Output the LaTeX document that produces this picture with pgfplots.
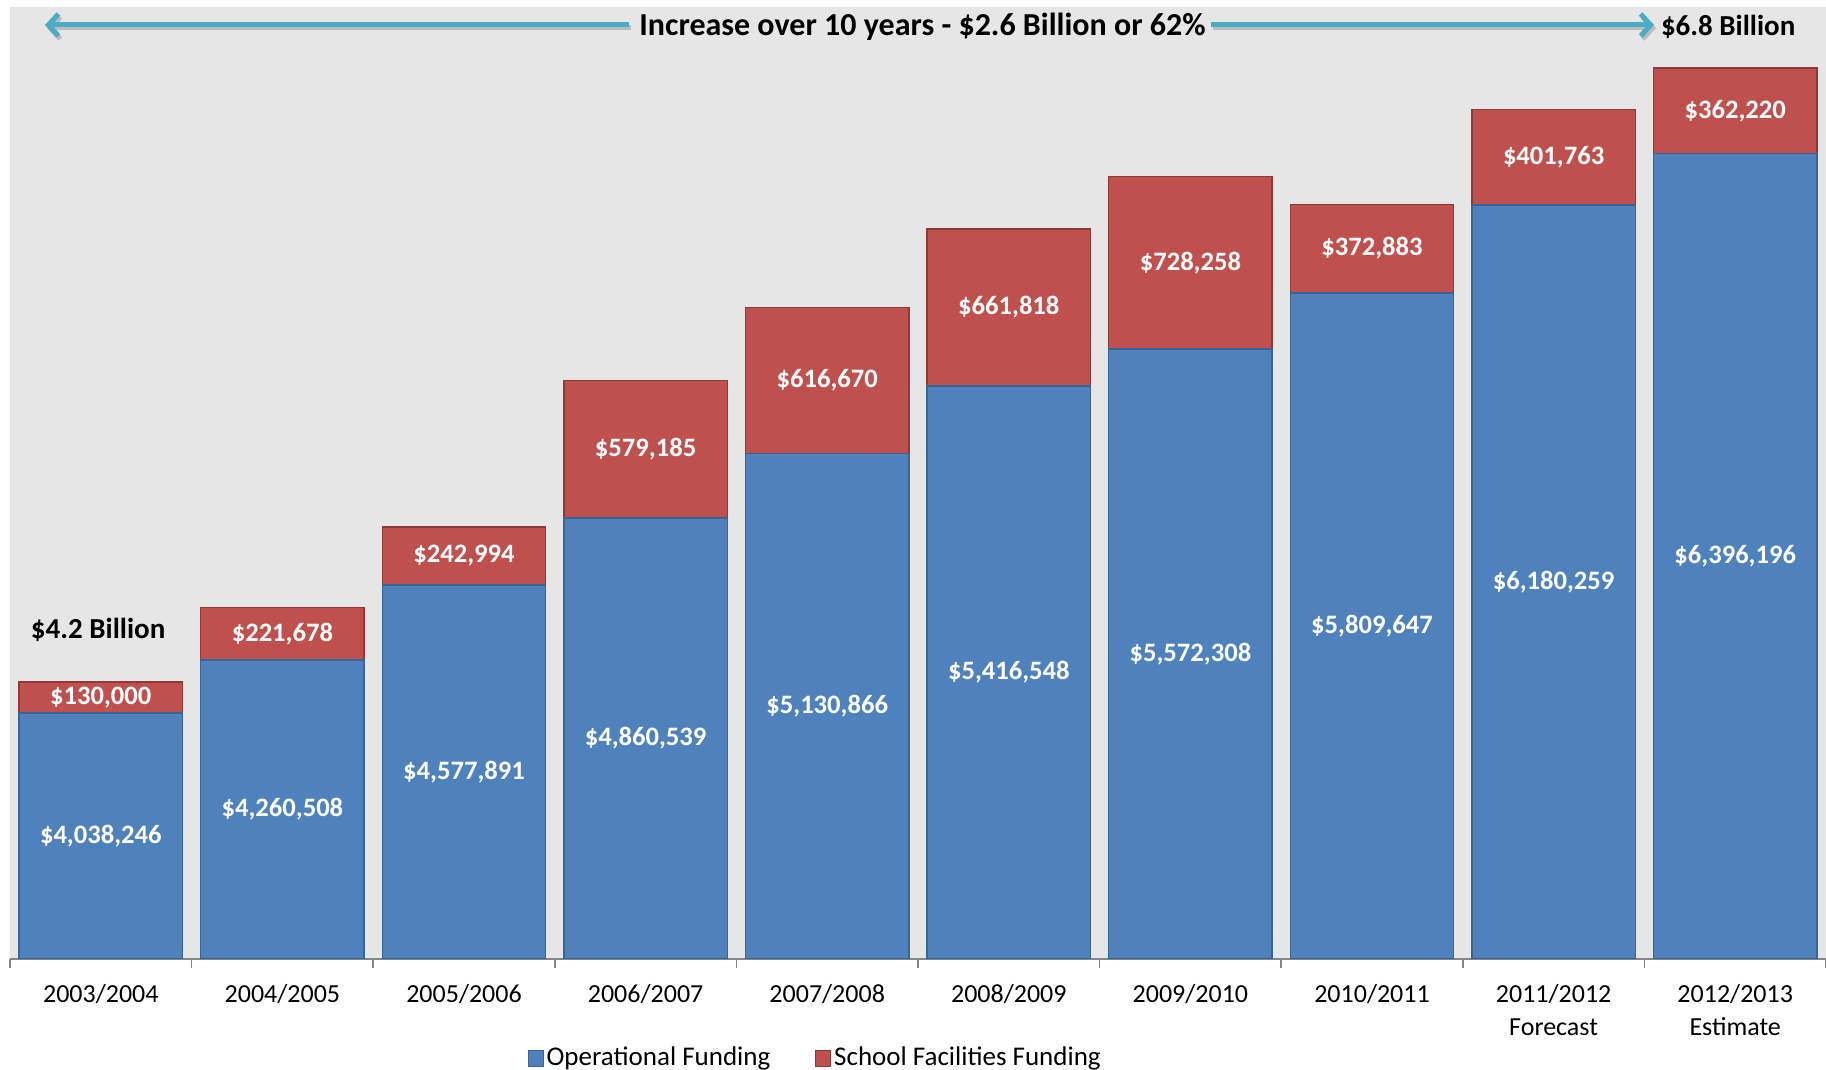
\documentclass[border=0pt]{standalone}
\usepackage{pgfplots}
\pgfplotsset{compat=1.18}
\usepackage{pgfplotstable}
\usepackage{fontspec}
\setmainfont{Carlito}
\usetikzlibrary{arrows.meta}

\definecolor{opblue}{HTML}{4F81BD}
\definecolor{opborder}{HTML}{3A6496}
\definecolor{facred}{HTML}{C0504D}
\definecolor{facborder}{HTML}{8E3A38}
\definecolor{bggray}{HTML}{E6E6E6}
\definecolor{aqua}{HTML}{4BACC6}
\definecolor{axisgray}{HTML}{868686}

\pgfplotstableread{
x op fac oplab faclab
0 4038246 130000 4,038,246 130,000
1 4260508 221678 4,260,508 221,678
2 4577891 242994 4,577,891 242,994
3 4860539 579185 4,860,539 579,185
4 5130866 616670 5,130,866 616,670
5 5416548 661818 5,416,548 661,818
6 5572308 728258 5,572,308 728,258
7 5809647 372883 5,809,647 372,883
8 6180259 401763 6,180,259 401,763
9 6396196 362220 6,396,196 362,220
}\datatable

\begin{document}
\begin{tikzpicture}
\path[use as bounding box] (0,0) rectangle (913pt,535pt);
\begin{axis}[
  at={(5pt,55.5pt)}, anchor=south west,
  scale only axis, width=908pt, height=476pt,
  xmin=-0.5, xmax=9.5, ymin=3000000, ymax=7015000,
  axis background/.style={fill=bggray},
  axis x line*=bottom, axis y line=none,
  x axis line style={-, axisgray, line width=0.75pt},
  xtick={0,...,9},
  xticklabels={2003/2004,2004/2005,2005/2006,2006/2007,2007/2008,2008/2009,2009/2010,2010/2011,{2011/2012\\Forecast},{2012/2013\\Estimate}},
  xticklabel style={align=center, font=\fontsize{13}{16.5}\selectfont, text=black, yshift=-5pt},
  major x tick style={draw=none},
  minor xtick={-0.5,0.5,...,9.5},
  minor x tick style={axisgray, line width=0.75pt},
  minor tick length=4.5pt,
  xtick align=outside,
  ytick=\empty,
  legend columns=2,
  legend style={draw=none, fill=none, at={(0.444,-0.104)}, anchor=center,
    font=\fontsize{13.5}{15}\selectfont,
    /tikz/every even column/.append style={column sep=20.5pt},
    /tikz/every odd column/.append style={column sep=-0.5pt}},
]
\addplot[ybar, bar width=0.9, bar shift=0pt, fill=facred, draw=facborder, line width=0.75pt, forget plot]
  table[x=x, y expr=\thisrow{op}+\thisrow{fac}] {\datatable};
\addplot[ybar, bar width=0.9, bar shift=0pt, fill=opblue, draw=opborder, line width=0.75pt, forget plot]
  table[x=x, y=op] {\datatable};
\addplot[only marks, mark=*, mark size=0pt, mark options={draw=none, fill=none},
  nodes near coords={\$\pgfplotspointmeta}, point meta=explicit symbolic,
  nodes near coords align=center,
  every node near coord/.append style={anchor=center, text=white, font=\bfseries\fontsize{13.3}{15}\selectfont},
  forget plot]
  table[x=x, y expr=(\thisrow{op}+3000000)/2, meta=oplab] {\datatable};
\addplot[only marks, mark=*, mark size=0pt, mark options={draw=none, fill=none},
  nodes near coords={\$\pgfplotspointmeta}, point meta=explicit symbolic,
  nodes near coords align=center,
  every node near coord/.append style={anchor=center, text=white, font=\bfseries\fontsize{13.3}{15}\selectfont},
  forget plot]
  table[x=x, y expr=\thisrow{op}+\thisrow{fac}/2, meta=faclab] {\datatable};
\addlegendimage{legend image code/.code={\draw[fill=opblue, draw=opborder] (0pt,-4pt) rectangle (7.5pt,4pt);}}
\addlegendentry{Operational Funding}
\addlegendimage{legend image code/.code={\draw[fill=facred, draw=facborder] (0pt,-4pt) rectangle (7.5pt,4pt);}}
\addlegendentry{School Facilities Funding}
\end{axis}
% arrows with soft shadow
\draw[black, opacity=0.18, line width=2.5pt, -{Straight Barb[length=5pt,width=11pt]}] (315.5pt,521pt) -- (23.5pt,521pt);
\draw[black, opacity=0.18, line width=2.5pt, -{Straight Barb[length=5pt,width=11pt]}] (606.5pt,521pt) -- (828pt,521pt);
\draw[aqua, line width=2.5pt, -{Straight Barb[length=5pt,width=11pt]}] (314.5pt,522.5pt) -- (22.5pt,522.5pt);
\draw[aqua, line width=2.5pt, -{Straight Barb[length=5pt,width=11pt]}] (605.5pt,522.5pt) -- (827pt,522.5pt);
\node[anchor=base west, inner sep=0pt, font=\bfseries\fontsize{16}{19}\selectfont] at (319.5pt,517.2pt) {Increase over 10 years - \$2.6 Billion or 62\%};
\node[anchor=base west, inner sep=0pt, font=\bfseries\fontsize{14.5}{17}\selectfont] at (830.3pt,517.2pt) {\$6.8 Billion};
\node[anchor=base west, inner sep=0pt, font=\bfseries\fontsize{14.5}{17}\selectfont] at (15.3pt,215.5pt) {\$4.2 Billion};
\end{tikzpicture}
\end{document}
